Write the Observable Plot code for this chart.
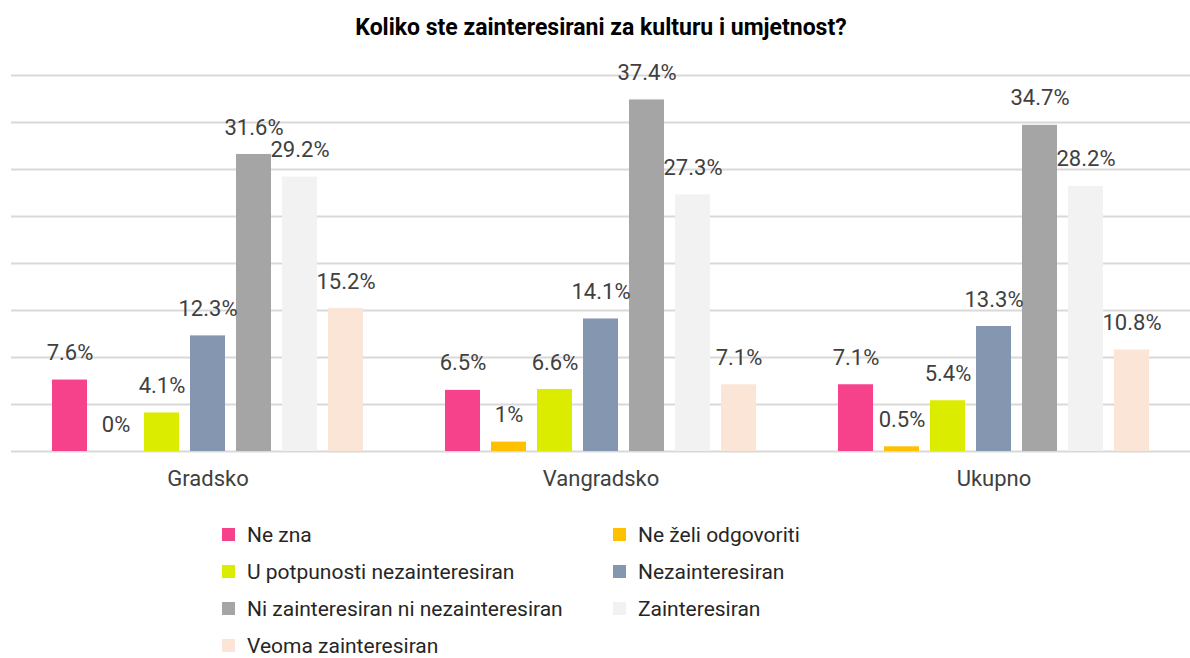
<!DOCTYPE html>
<html>
<head>
<meta charset="utf-8">
<script src="https://cdn.jsdelivr.net/npm/d3@7"></script>
<script src="https://cdn.jsdelivr.net/npm/@observablehq/plot@0.6"></script>
<style>
  html, body { margin: 0; padding: 0; background: #fff; }
  body { width: 1190px; height: 658px; overflow: hidden; font-family: Roboto, "Noto Sans", sans-serif; }
  #title { height: 50px; line-height: 56px; text-align: center; font-weight: bold; font-size: 23px; color: #000; padding-left: 12px; }
  #legend { display: grid; grid-template-columns: 391px auto; margin-left: 222px; padding-top: 11px; }
  .item { height: 37px; line-height: 24px; font-size: 21px; color: #262626; display: flex; align-items: center; white-space: nowrap; }
  .sw { width: 13px; height: 13px; margin-right: 12px; flex: none; }
</style>
</head>
<body>
<div id="title">Koliko ste zainteresirani za kulturu i umjetnost?</div>
<div id="chart"></div>
<div id="legend"></div>
<script>
const groups = ["Gradsko", "Vangradsko", "Ukupno"];
const series = [
  "Ne zna",
  "Ne želi odgovoriti",
  "U potpunosti nezainteresiran",
  "Nezainteresiran",
  "Ni zainteresiran ni nezainteresiran",
  "Zainteresiran",
  "Veoma zainteresiran"
];
const colors = ["#f6418b", "#ffc000", "#dcec00", "#8496b0", "#a5a5a5", "#f2f2f2", "#fbe5d6"];
const gradsko = [7.6, 0, 4.1, 12.3, 31.6, 29.2, 15.2];
const vangradsko = [6.5, 1, 6.6, 14.1, 37.4, 27.3, 7.1];
const ukupno = [7.1, 0.5, 5.4, 13.3, 34.7, 28.2, 10.8];
const gridTicks = [0, 5, 10, 15, 20, 25, 30, 35, 40];

const valuesByGroup = [gradsko, vangradsko, ukupno];
const data = [];
groups.forEach((g, gi) => series.forEach((s, si) => data.push({group: g, series: s, value: valuesByGroup[gi][si]})));

const chart = Plot.plot({
  width: 1190,
  height: 455,
  marginTop: 25,
  marginBottom: 54,
  marginLeft: 10,
  marginRight: 0,
  style: {fontFamily: "Roboto, 'Noto Sans', sans-serif", fontSize: "22px", color: "#404040", background: "#fff"},
  fx: {domain: groups, padding: 0, label: null},
  x: {domain: series, paddingInner: 0.23, paddingOuter: 0.84, axis: null},
  y: {domain: [0, 40], axis: null},
  color: {domain: series, range: colors},
  marks: [
    Plot.ruleY(gridTicks, {stroke: "#d9d9d9", strokeWidth: 2}),
    Plot.barY(data, {fx: "group", x: "series", y: "value", fill: "series"}),
    Plot.text(data, {fx: "group", x: "series", y: "value", text: d => d.value + "%", dy: -27, fill: "#404040", fontSize: 22}),
    Plot.axisFx({anchor: "bottom", tickSize: 0, tickPadding: 19, label: null, fontSize: 22, fill: "#404040"})
  ]
});
document.getElementById("chart").appendChild(chart);

const legend = document.getElementById("legend");
series.forEach((s, i) => {
  const item = document.createElement("div");
  item.className = "item";
  const sw = document.createElement("span");
  sw.className = "sw";
  sw.style.background = colors[i];
  const t = document.createElement("span");
  t.textContent = s;
  item.appendChild(sw);
  item.appendChild(t);
  legend.appendChild(item);
});
</script>
</body>
</html>
